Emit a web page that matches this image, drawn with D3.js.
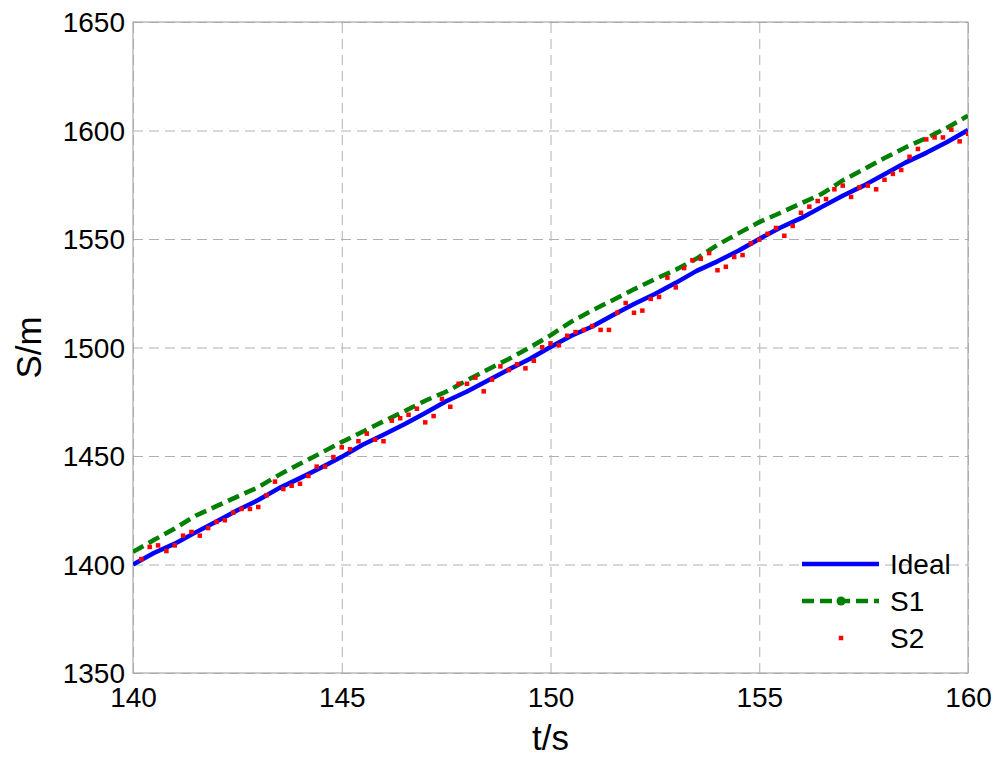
<!DOCTYPE html>
<html>
<head>
<meta charset="utf-8">
<script src="https://d3js.org/d3.v7.min.js"></script>
<style>
  body { margin: 0; background: white; }
  .tick_label { font-family: "Liberation Sans", Arial, sans-serif; font-size: 28px; fill: black; }
  .axis_label { font-family: "Liberation Sans", Arial, sans-serif; font-size: 35px; fill: black; }
  .legend_label { font-family: "Liberation Sans", Arial, sans-serif; font-size: 28px; fill: black; }
</style>
</head>
<body>
<div id="path_plot"></div>
<script>
// ideal trajectory, sampled every 0.5 s
var ideal_time = [140, 140.5, 141, 141.5, 142, 142.5, 143, 143.5, 144, 144.5, 145, 145.5, 146, 146.5,
  147, 147.5, 148, 148.5, 149, 149.5, 150, 150.5, 151, 151.5, 152, 152.5, 153, 153.5, 154, 154.5,
  155, 155.5, 156, 156.5, 157, 157.5, 158, 158.5, 159, 159.5, 160];
var ideal_s = [1400.0, 1405.3, 1409.6, 1414.8, 1419.8, 1425.0, 1429.7, 1435.2, 1439.8, 1444.6,
  1449.6, 1455.2, 1459.8, 1464.6, 1469.8, 1475.2, 1479.7, 1484.8, 1489.9, 1494.7,
  1500.2, 1505.4, 1509.7, 1515.0, 1520.0, 1524.7, 1529.8, 1535.3, 1539.7, 1544.6,
  1550.0, 1555.2, 1559.6, 1564.8, 1569.9, 1574.6, 1579.8, 1585.2, 1589.7, 1594.7, 1600.2];

// S1 (same time base as ideal)
var s1_s = [1405.8, 1411.3, 1416.6, 1422.5, 1426.9, 1431.3, 1435.6, 1441.3, 1446.4, 1451.4,
  1456.4, 1461.2, 1466.0, 1470.6, 1475.5, 1479.6, 1484.9, 1489.9, 1494.7, 1500.0,
  1505.6, 1511.9, 1517.1, 1521.9, 1526.8, 1531.5, 1535.8, 1541.0, 1547.3, 1552.6,
  1557.8, 1562.0, 1566.4, 1570.8, 1577.0, 1582.1, 1587.3, 1592.2, 1596.5, 1601.3, 1606.8];

// S2 measurements, every 0.2 s
var s2_time = [140.2, 140.4, 140.6, 140.8, 141.0, 141.2, 141.4, 141.6, 141.8, 142.0,
  142.2, 142.4, 142.6, 142.8, 143.0, 143.2, 143.4, 143.6, 143.8, 144.0,
  144.2, 144.4, 144.6, 144.8, 145.0, 145.2, 145.4, 145.6, 145.8, 146.0,
  146.2, 146.4, 146.6, 146.8, 147.0, 147.2, 147.4, 147.6, 147.8, 148.0,
  148.2, 148.4, 148.6, 148.8, 149.0, 149.2, 149.4, 149.6, 149.8, 150.0,
  150.2, 150.4, 150.6, 150.8, 151.0, 151.2, 151.4, 151.6, 151.8, 152.0,
  152.2, 152.4, 152.6, 152.8, 153.0, 153.2, 153.4, 153.6, 153.8, 154.0,
  154.2, 154.4, 154.6, 154.8, 155.0, 155.2, 155.4, 155.6, 155.8, 156.0,
  156.2, 156.4, 156.6, 156.8, 157.0, 157.2, 157.4, 157.6, 157.8, 158.0,
  158.2, 158.4, 158.6, 158.8, 159.0, 159.2, 159.4, 159.6, 159.8, 160.0];
var s2_s = [1402.5, 1408.1, 1408.8, 1406.2, 1408.8, 1413.3, 1415.0, 1413.3, 1416.8, 1419.6,
  1420.4, 1423.9, 1425.6, 1425.6, 1426.5, 1431.9, 1438.2, 1434.8, 1436.3, 1437.2,
  1440.8, 1445.1, 1445.1, 1449.5, 1454.0, 1453.1, 1456.8, 1460.3, 1457.5, 1456.8,
  1466.3, 1467.4, 1469.0, 1471.8, 1465.5, 1468.4, 1476.3, 1472.7, 1483.3, 1483.3,
  1486.1, 1479.8, 1485.2, 1491.3, 1489.6, 1492.3, 1490.4, 1493.9, 1500.1, 1501.9,
  1501.0, 1505.4, 1507.1, 1508.1, 1509.9, 1508.1, 1508.1, 1516.0, 1520.5, 1516.0,
  1517.0, 1522.4, 1523.3, 1532.2, 1527.7, 1536.6, 1540.2, 1540.9, 1543.5, 1535.6,
  1537.2, 1541.7, 1542.6, 1548.0, 1549.7, 1552.4, 1555.1, 1551.5, 1556.0, 1562.1,
  1564.9, 1567.5, 1568.4, 1572.9, 1574.6, 1569.4, 1573.8, 1574.6, 1572.9, 1577.3,
  1580.0, 1581.8, 1587.9, 1591.5, 1595.9, 1596.8, 1596.8, 1600.4, 1595.0, 1598.5];

var x_ticks = [140, 145, 150, 155, 160];
var y_ticks = [1350, 1400, 1450, 1500, 1550, 1600, 1650];
var legend_names = ["Ideal", "S1", "S2"];

var margin = {left: 133, right: 32, top: 22, bottom: 85};
var total_width = 1000, total_height = 758;
var width = total_width - margin.left - margin.right;
var height = total_height - margin.top - margin.bottom;

var svg = d3.select("#path_plot").append("svg")
    .attr("width", total_width)
    .attr("height", total_height)
  .append("g")
    .attr("transform", "translate(" + margin.left + "," + margin.top + ")");

var x = d3.scaleLinear().domain([140, 160]).range([0, width]);
var y = d3.scaleLinear().domain([1350, 1650]).range([height, 0]);

svg.append("clipPath").attr("id", "plot_clip")
  .append("rect").attr("x", 0).attr("y", 0).attr("width", width).attr("height", height);

// dashed grid
svg.append("g")
    .attr("transform", "translate(0," + height + ")")
    .call(d3.axisBottom(x).tickValues(x_ticks).tickSize(-height).tickFormat(""))
    .call(function(g) { g.select(".domain").remove(); })
    .selectAll("line")
    .style("stroke", "#b0b0b0")
    .style("stroke-dasharray", "10,6");

svg.append("g")
    .call(d3.axisLeft(y).tickValues(y_ticks).tickSize(-width).tickFormat(""))
    .call(function(g) { g.select(".domain").remove(); })
    .selectAll("line")
    .style("stroke", "#b0b0b0")
    .style("stroke-dasharray", "10,6");

// frame
svg.append("rect")
    .attr("x", 0).attr("y", 0)
    .attr("width", width).attr("height", height)
    .style("fill", "none")
    .style("stroke", "#a8a8a8")
    .style("stroke-width", 1.2);

// tick labels
var x_axis = svg.append("g")
    .attr("transform", "translate(0," + height + ")")
    .call(d3.axisBottom(x).tickValues(x_ticks).tickSize(0).tickPadding(14).tickFormat(d3.format("d")));
x_axis.select(".domain").remove();
x_axis.selectAll("text").attr("class", "tick_label").attr("dy", "0.71em");

var y_axis = svg.append("g")
    .call(d3.axisLeft(y).tickValues(y_ticks).tickSize(0).tickPadding(8).tickFormat(d3.format("d")));
y_axis.select(".domain").remove();
y_axis.selectAll("text").attr("class", "tick_label").attr("dy", "0.34em");

// axis titles
svg.append("text")
    .attr("class", "axis_label")
    .attr("x", width / 2)
    .attr("y", height + 77)
    .style("text-anchor", "middle")
    .text("t/s");

svg.append("text")
    .attr("class", "axis_label")
    .attr("transform", "translate(" + (-92) + "," + (height / 2) + ") rotate(-90)")
    .style("text-anchor", "middle")
    .text("S/m");

var plot = svg.append("g").attr("clip-path", "url(#plot_clip)");

var ideal_line = d3.line()
    .x(function(d, i) { return x(ideal_time[i]); })
    .y(function(d) { return y(d); });

plot.append("path")
    .datum(ideal_s)
    .attr("d", ideal_line)
    .style("fill", "none")
    .style("stroke", "#0000ff")
    .style("stroke-width", 4.5)
    .style("stroke-linejoin", "round");

plot.append("path")
    .datum(s1_s)
    .attr("d", ideal_line)
    .style("fill", "none")
    .style("stroke", "#008000")
    .style("stroke-width", 4.5)
    .style("stroke-dasharray", "12,6");

plot.selectAll(".s2_dot")
    .data(s2_s)
  .enter()
    .append("rect")
    .attr("class", "s2_dot")
    .attr("x", function(d, i) { return x(s2_time[i]) - 2.25; })
    .attr("y", function(d) { return y(d) - 2.25; })
    .attr("width", 4.5)
    .attr("height", 4.5)
    .style("fill", "#ff0000");

// legend
var legend = svg.append("g")
    .attr("transform", "translate(" + (802 - margin.left) + "," + (564 - margin.top) + ")");
var row_gap = 37;

legend.append("line")
    .attr("x1", 0).attr("x2", 77).attr("y1", 0).attr("y2", 0)
    .style("stroke", "#0000ff").style("stroke-width", 4.5);

legend.append("line")
    .attr("x1", 0).attr("x2", 77).attr("y1", row_gap).attr("y2", row_gap)
    .style("stroke", "#008000").style("stroke-width", 4.5)
    .style("stroke-dasharray", "12,6");
legend.append("circle")
    .attr("cx", 39).attr("cy", row_gap).attr("r", 4.5)
    .style("fill", "#008000");

legend.append("rect")
    .attr("x", 36.75).attr("y", row_gap * 2 - 2.25).attr("width", 4.5).attr("height", 4.5)
    .style("fill", "#ff0000");

legend.selectAll(".legend_label")
    .data(legend_names)
  .enter()
    .append("text")
    .attr("class", "legend_label")
    .attr("x", 88)
    .attr("y", function(d, i) { return i * row_gap; })
    .attr("dy", "0.36em")
    .text(function(d) { return d; });
</script>
</body>
</html>
